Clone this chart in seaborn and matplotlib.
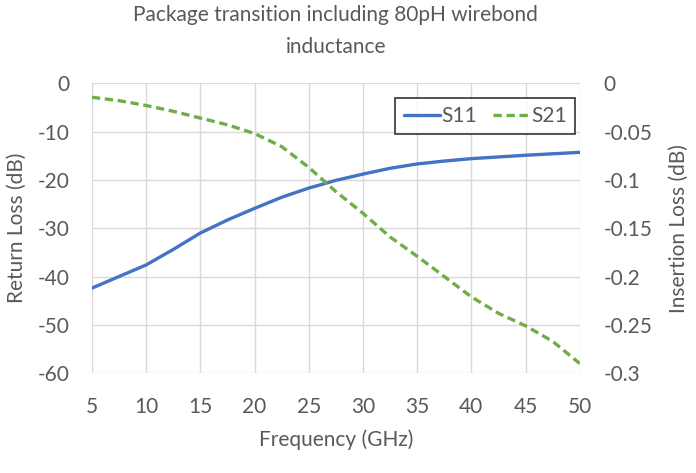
import numpy as np
import pandas as pd
import matplotlib.pyplot as plt
import seaborn as sns

# Frequency sweep (GHz) and readings
freq = [5, 7.5, 10, 12.5, 15, 17.5, 20, 22.5, 25, 27.5,
        30, 32.5, 35, 37.5, 40, 42.5, 45, 47.5, 50]
s11_db = [-42.4, -40.0, -37.6, -34.4, -31.0, -28.3, -25.9, -23.6, -21.7, -20.1,
          -18.8, -17.6, -16.7, -16.1, -15.6, -15.25, -14.9, -14.6, -14.3]
s21_db = [-0.0145, -0.018, -0.023, -0.029, -0.036, -0.043, -0.052, -0.0655, -0.087, -0.112,
          -0.1345, -0.159, -0.179, -0.200, -0.221, -0.238, -0.251, -0.267, -0.290]

df = pd.DataFrame({'freq': freq, 'S11': s11_db, 'S21': s21_db})

sns.set_style('white')
plt.rcParams['font.family'] = ['Lato', 'DejaVu Sans']
plt.rcParams['axes.unicode_minus'] = False

text_col = '#595959'
grid_col = '#D9D9D9'
fs = 15

fig = plt.figure(figsize=(6.96, 4.73), dpi=100)
ax = fig.add_axes([0.132, 0.211, 0.701, 0.613])
ax2 = ax.twinx()

sns.lineplot(data=df, x='freq', y='S11', ax=ax, color='#4472C4', lw=2.4, label='S11', legend=False)
sns.lineplot(data=df, x='freq', y='S21', ax=ax2, color='#70AD47', lw=2.4, ls=(0, (2.5, 1.4)),
             label='S21', legend=False)

ax.set_xlim(5, 50)
ax.set_ylim(-60, 0)
ax2.set_ylim(-0.3, 0)
ax.set_xticks(range(5, 51, 5))
ax.set_yticks(range(-60, 1, 10))
ax2.set_yticks([0, -0.05, -0.1, -0.15, -0.2, -0.25, -0.3])
ax2.set_yticklabels(['0', '-0.05', '-0.1', '-0.15', '-0.2', '-0.25', '-0.3'])

ax.grid(True, color=grid_col, lw=1)
for a in (ax, ax2):
    for s in a.spines.values():
        s.set_visible(False)
    a.tick_params(length=0, labelsize=fs, colors=text_col)
ax.tick_params(axis='y', pad=16)
ax.tick_params(axis='x', pad=17)
ax2.tick_params(axis='y', pad=17)

ax.set_xlabel('Frequency (GHz)', fontsize=fs, color=text_col, labelpad=9)
ax.set_ylabel('Return Loss (dB)', fontsize=fs, color=text_col, labelpad=8)
ax2.set_ylabel('Insertion Loss (dB)', fontsize=fs, color=text_col, labelpad=12)
ax.set_title('Package transition including 80pH wirebond\ninductance', fontsize=fs,
             color=text_col, pad=22, linespacing=1.75)

h1, l1 = ax.get_legend_handles_labels()
h2, l2 = ax2.get_legend_handles_labels()
leg = ax2.legend(h1 + h2, l1 + l2, loc='upper right', bbox_to_anchor=(0.99, 0.95), ncol=2,
                 fontsize=fs, frameon=True, fancybox=False, handlelength=1.75,
                 handletextpad=0.05, columnspacing=0.8, borderpad=0.4, borderaxespad=0)
leg.get_frame().set_edgecolor('black')
leg.get_frame().set_linewidth(1.2)
for t in leg.get_texts():
    t.set_color(text_col)

fig.savefig('out.png', dpi=100)
